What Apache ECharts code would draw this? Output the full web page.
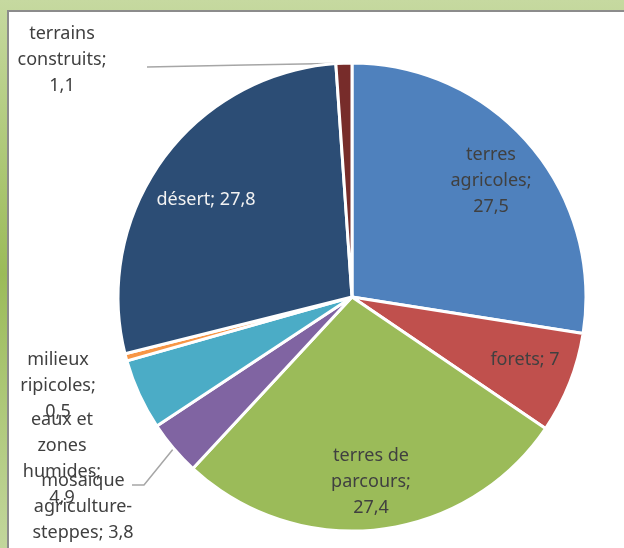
<!DOCTYPE html>
<html>
<head>
<meta charset="utf-8">
<script src="https://cdn.jsdelivr.net/npm/echarts@6.0.0/dist/echarts.min.js"></script>
<style>
  html, body { margin: 0; padding: 0; }
  #chart { width: 624px; height: 548px; }
</style>
</head>
<body>
<div id="chart"></div>
<script>
// categories (with the line breaks used in the labels) and values, %
const categories = [
  'terres\nagricoles',
  'forets',
  'terres de\nparcours',
  'mosaique\nagriculture-\nsteppes',
  'eaux et\nzones\nhumides',
  'milieux\nripicoles',
  'désert',
  'terrains\nconstruits'
]
const values = [27.5, 7, 27.4, 3.8, 4.9, 0.5, 27.8, 1.1]
// what goes between "name;" and the value
const valueSep = ['\n', ' ', '\n', ' ', '\n', '\n', ' ', '\n']
const colors = ['#4F81BD', '#C0504D', '#9BBB59', '#8064A2', '#4BACC6', '#F79646', '#2C4D75', '#772C2A']

// label block centres
const labelPos = [
  [491, 181], [525, 360], [371, 482], [83, 507],
  [62, 459], [58, 386], [206, 200], [62, 60]
]
const withLine = [3, 7]
const outside = [3, 4, 5, 7]

const chart = echarts.init(document.getElementById('chart'))

const data = categories.map((name, i) => ({
  name: name,
  value: values[i],
  itemStyle: { color: colors[i] },
  label: {
    position: outside.includes(i) ? 'outside' : 'inside',
    color: i === 6 ? '#f2f2f2' : '#404040'
  },
  labelLine: { show: withLine.includes(i) }
}))

const option = {
  animation: false,
  graphic: [
    {
      type: 'rect',
      z: -20,
      shape: { x: 0, y: 0, width: 624, height: 548 },
      style: {
        fill: new echarts.graphic.LinearGradient(0, 0, 0, 1, [
          { offset: 0, color: '#C6D9A0' },
          { offset: 0.5, color: '#9BBB59' },
          { offset: 1, color: '#C2D69C' }
        ])
      }
    },
    {
      type: 'rect',
      z: -10,
      shape: { x: 8, y: 11, width: 640, height: 560 },
      style: { fill: '#ffffff', stroke: '#8C8C8C', lineWidth: 2 }
    }
  ],
  series: [
    {
      type: 'pie',
      center: [352, 297],
      radius: 234,
      startAngle: 90,
      clockwise: true,
      avoidLabelOverlap: false,
      itemStyle: { borderColor: '#ffffff', borderWidth: 3 },
      label: {
        fontFamily: 'Noto Sans',
        fontSize: 18,
        lineHeight: 26,
        align: 'center',
        formatter: p => p.name + ';' + valueSep[p.dataIndex] + String(p.value).replace('.', ',')
      },
      labelLine: {
        lineStyle: { color: '#A6A6A6', width: 1.5 }
      },
      labelLayout: function (params) {
        const i = params.dataIndex
        const pos = labelPos[i]
        const res = { x: pos[0], y: pos[1], align: 'center', verticalAlign: 'middle' }
        if (withLine.includes(i) && params.labelLinePoints) {
          const p0 = params.labelLinePoints[0]
          if (i === 7) {
            res.labelLinePoints = [p0, [(p0[0] + 147) / 2, (p0[1] + 67) / 2], [147, 67]]
          } else {
            res.labelLinePoints = [p0, [144, 485], [132, 485]]
          }
        }
        return res
      },
      data: data
    }
  ]
}
chart.setOption(option)
</script>
</body>
</html>
